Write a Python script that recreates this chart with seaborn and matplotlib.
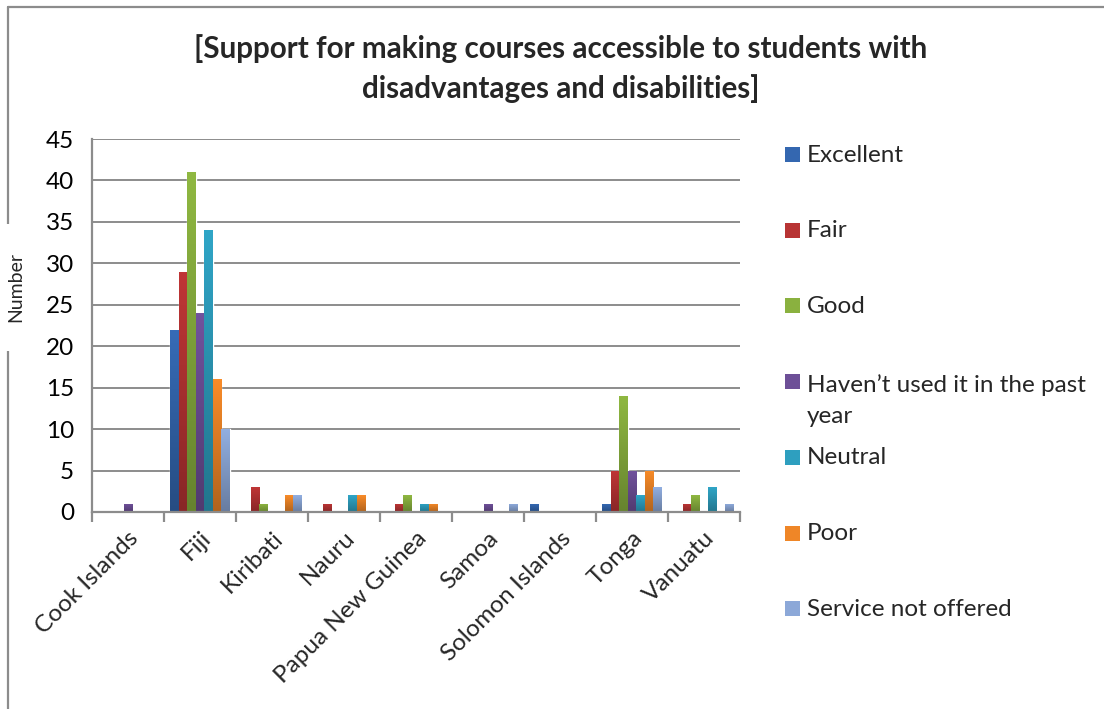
import numpy as np
import pandas as pd
import matplotlib
matplotlib.use("Agg")
import matplotlib.pyplot as plt
from matplotlib.lines import Line2D
from matplotlib.patches import Rectangle
import matplotlib.colors as mcolors
import seaborn as sns

# ---- data -------------------------------------------------------------
countries = ["Cook Islands", "Fiji", "Kiribati", "Nauru", "Papua New Guinea",
             "Samoa", "Solomon Islands", "Tonga", "Vanuatu"]
ratings = ["Excellent", "Fair", "Good", "Haven\u2019t used it in the past year",
           "Neutral", "Poor", "Service not offered"]
legend_labels = ["Excellent", "Fair", "Good", "Haven\u2019t used it in the past\nyear",
                 "Neutral", "Poor", "Service not offered"]

excellent = [0, 22, 0, 0, 0, 0, 1, 1, 0]
fair      = [0, 29, 3, 1, 1, 0, 0, 5, 1]
good      = [0, 41, 1, 0, 2, 0, 0, 14, 2]
not_used  = [1, 24, 0, 0, 0, 1, 0, 5, 0]
neutral   = [0, 34, 0, 2, 1, 0, 0, 2, 3]
poor      = [0, 16, 2, 2, 1, 0, 0, 5, 0]
no_serv   = [0, 10, 2, 0, 0, 1, 0, 3, 1]

yticks = [0, 5, 10, 15, 20, 25, 30, 35, 40, 45]

series = [excellent, fair, good, not_used, neutral, poor, no_serv]
colors = ["#3467B0", "#B83434", "#8AB13F", "#6D4F97", "#2E9FBF", "#EF8627", "#8CA8D8"]

rows = []
for r, vals in zip(ratings, series):
    for c, v in zip(countries, vals):
        rows.append({"Country": c, "Rating": r, "Number": v})
df = pd.DataFrame(rows)

# ---- figure -----------------------------------------------------------
sns.set_theme(style="white")
plt.rcParams["font.family"] = ["Lato", "DejaVu Sans"]

FS = 17.5

fig = plt.figure(figsize=(11.04, 7.09), dpi=100)
ax = fig.add_axes([92 / 1104, 1 - 512 / 709, (740 - 92) / 1104, (512 - 139) / 709])

sns.barplot(data=df, x="Country", y="Number", hue="Rating",
            order=countries, hue_order=ratings, palette=colors,
            width=0.83, gap=0, saturation=1, errorbar=None,
            legend=False, ax=ax, zorder=3)

# vertical shading on each bar: lighter top, darker bottom
grad = np.linspace(0, 1, 64).reshape(-1, 1)
for p in list(ax.patches):
    h = p.get_height()
    if h <= 0:
        continue
    base = np.array(mcolors.to_rgb(p.get_facecolor()))
    top = np.clip(base * 1.04, 0, 1)
    bot = base * 0.74
    img = top[None, None, :] * (1 - grad[:, :, None]) + bot[None, None, :] * grad[:, :, None]
    x0 = p.get_x()
    w = p.get_width()
    im = ax.imshow(img, extent=[x0, x0 + w, 0, h], origin="upper",
                   aspect="auto", zorder=3.5, interpolation="bilinear")
    im.set_clip_path(p)

ax.set_xlim(-0.5, len(countries) - 0.5)
ax.set_ylim(0, 45)
ax.set_yticks(yticks)
ax.set_yticklabels([str(t) for t in yticks], fontsize=FS)

grid_c = "#8c8c8c"
ax.yaxis.grid(True, color=grid_c, lw=1.4, zorder=1)
ax.set_axisbelow(True)
for s in ["top", "right"]:
    ax.spines[s].set_visible(False)
for s in ["left", "bottom"]:
    ax.spines[s].set_color(grid_c)
    ax.spines[s].set_linewidth(1.6)
    ax.spines[s].set_zorder(5)

ax.tick_params(axis="y", length=0, pad=13, labelcolor="black")
ax.set_xticks(range(len(countries)))
ax.set_xticklabels(countries, rotation=45, ha="right", va="top",
                   rotation_mode="anchor", fontsize=FS)
ax.set_xticks(np.arange(-0.5, len(countries), 1.0), minor=True)
ax.tick_params(axis="x", which="major", length=0, pad=11)
ax.tick_params(axis="x", which="minor", length=7, width=1.6, color=grid_c,
               direction="out", bottom=True)
ax.set_xlabel("")
ax.set_ylabel("")

# ---- titles -----------------------------------------------------------
fig.text(561 / 1104, 1 - 49 / 709,
         "[Support for making courses accessible to students with",
         ha="center", va="center", fontsize=21.3, fontweight="bold")
fig.text(561 / 1104, 1 - 89 / 709,
         "disadvantages and disabilities]",
         ha="center", va="center", fontsize=21.3, fontweight="bold")

# ---- chart frame ------------------------------------------------------
fig.add_artist(Line2D([8 / 1104, 8 / 1104], [0, 1 - 7 / 709],
                      transform=fig.transFigure, color="#8c8c8c", lw=1.6))
fig.add_artist(Line2D([8 / 1104, 1], [1 - 7 / 709, 1 - 7 / 709],
                      transform=fig.transFigure, color="#8c8c8c", lw=1.6))
fig.add_artist(Rectangle((0, 1 - 351 / 709), 30 / 1104, 127 / 709,
                         transform=fig.transFigure, facecolor="white",
                         edgecolor="none", zorder=4))
fig.text(16 / 1104, 1 - 287 / 709, "Number", rotation=90,
         ha="center", va="center", fontsize=14, zorder=5)

# ---- legend -----------------------------------------------------------
for i, (lab, col) in enumerate(zip(legend_labels, colors)):
    yc = 155 + i * 75.7
    fig.add_artist(Rectangle((785 / 1104, 1 - (yc + 7) / 709), 15 / 1104, 15 / 709,
                             transform=fig.transFigure, facecolor=col,
                             edgecolor="none"))
    if "\n" in lab:
        fig.text(807 / 1104, 1 - (yc - 8) / 709, lab, ha="left", va="top",
                 fontsize=FS, linespacing=1.6)
    else:
        fig.text(807 / 1104, 1 - yc / 709, lab, ha="left", va="center",
                 fontsize=FS)

fig.savefig("out.png", dpi=100)
